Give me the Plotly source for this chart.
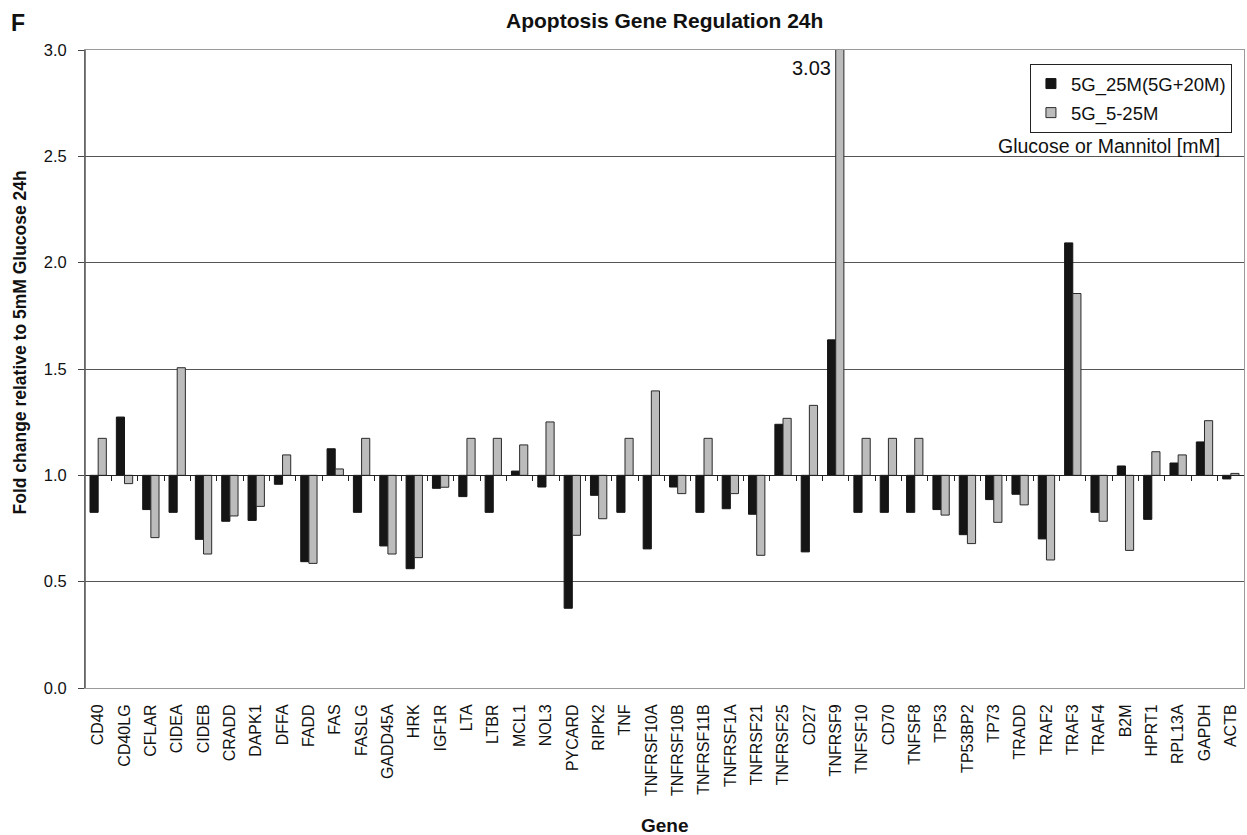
import plotly.graph_objects as go

genes = ["CD40", "CD40LG", "CFLAR", "CIDEA", "CIDEB", "CRADD", "DAPK1", "DFFA", "FADD", "FAS",
         "FASLG", "GADD45A", "HRK", "IGF1R", "LTA", "LTBR", "MCL1", "NOL3", "PYCARD", "RIPK2",
         "TNF", "TNFRSF10A", "TNFRSF10B", "TNFRSF11B", "TNFRSF1A", "TNFRSF21", "TNFRSF25", "CD27",
         "TNFRSF9", "TNFSF10", "CD70", "TNFSF8", "TP53", "TP53BP2", "TP73", "TRADD", "TRAF2",
         "TRAF3", "TRAF4", "B2M", "HPRT1", "RPL13A", "GAPDH", "ACTB"]

fold_25M = [0.826, 1.274, 0.839, 0.826, 0.699, 0.784, 0.788, 0.958, 0.594, 1.125,
            0.826, 0.668, 0.561, 0.939, 0.900, 0.826, 1.020, 0.945, 0.375, 0.906,
            0.826, 0.654, 0.945, 0.826, 0.843, 0.817, 1.240, 0.640,
            1.637, 0.826, 0.826, 0.826, 0.839, 0.721, 0.886, 0.911, 0.701,
            2.093, 0.826, 1.044, 0.793, 1.058, 1.157, 0.983]

fold_5_25M = [1.174, 0.961, 0.707, 1.506, 0.630, 0.809, 0.854, 1.096, 0.586, 1.030,
              1.174, 0.630, 0.613, 0.944, 1.174, 1.174, 1.143, 1.251, 0.718, 0.796,
              1.174, 1.397, 0.914, 1.174, 0.914, 0.624, 1.268, 1.329,
              3.03, 1.174, 1.174, 1.174, 0.813, 0.679, 0.779, 0.861, 0.602,
              1.855, 0.784, 0.647, 1.111, 1.096, 1.257, 1.009]

series_names = ["5G_25M(5G+20M)", "5G_5-25M"]
baseline = 1.0
y_range = [0.0, 3.0]
y_ticks = [0.0, 0.5, 1.0, 1.5, 2.0, 2.5, 3.0]

FONT = "Liberation Sans, Arial, Helvetica, sans-serif"
BLACK = "#151515"
GRAY = "#bcbcbc"
EDGE = "#2a2a2a"

fig = go.Figure()
fig.add_trace(go.Bar(
    x=genes, y=[v - baseline for v in fold_25M], base=baseline,
    name=series_names[0], showlegend=False,
    marker=dict(color=BLACK, line=dict(color=BLACK, width=1)),
))
fig.add_trace(go.Bar(
    x=genes, y=[v - baseline for v in fold_5_25M], base=baseline,
    name=series_names[1], showlegend=False,
    marker=dict(color=GRAY, line=dict(color=EDGE, width=1)),
))
# legend entries with square swatches
fig.add_trace(go.Scatter(
    x=[None], y=[None], mode="markers", name=series_names[0], legendgroup="a",
    marker=dict(symbol="square", size=10, color=BLACK, line=dict(color=BLACK, width=1)),
))
fig.add_trace(go.Scatter(
    x=[None], y=[None], mode="markers", name=series_names[1], legendgroup="b",
    marker=dict(symbol="square", size=10, color=GRAY, line=dict(color=EDGE, width=1)),
))
# invisible helper trace for the category axis drawn at fold change 1.0
n = len(genes)
fig.add_trace(go.Scatter(
    x=[0, n - 1], y=[baseline, baseline], xaxis="x2", mode="markers",
    marker=dict(opacity=0), hoverinfo="skip", showlegend=False,
))

base_pos = (baseline - y_range[0]) / (y_range[1] - y_range[0])

fig.update_layout(
    width=1247, height=835,
    margin=dict(l=85, r=3, t=50, b=147),
    paper_bgcolor="white", plot_bgcolor="white",
    barmode="group", bargap=0.38, bargroupgap=0.0,
    font=dict(family=FONT, color="#111", size=16),
    showlegend=True,
    legend=dict(
        x=0.9896, y=0.978, xanchor="right", yanchor="top",
        bgcolor="white", bordercolor="#222", borderwidth=1,
        font=dict(size=18.5, family=FONT, color="#111"),
        tracegroupgap=2, itemwidth=30,
    ),
    xaxis=dict(
        type="category", categoryorder="array", categoryarray=genes,
        range=[-0.5, n - 0.5],
        tickangle=-90, tickfont=dict(size=16, family=FONT, color="#111"),
        showline=True, linecolor="#9a9a9a", linewidth=1, mirror=True,
        ticks="", showgrid=False, ticklabelstandoff=9,
    ),
    xaxis2=dict(
        overlaying="x", anchor="free", position=base_pos,
        range=[-0.5, n - 0.5],
        tickvals=[i + 0.5 for i in range(n - 1)],
        showticklabels=False, ticks="outside", ticklen=5, tickcolor="#222", tickwidth=1,
        showline=True, linecolor="#222", linewidth=1, showgrid=False, zeroline=False,
    ),
    yaxis=dict(
        range=y_range, tickvals=y_ticks, tickformat=".1f",
        tickfont=dict(size=16.5, family=FONT, color="#111"),
        ticks="outside", ticklen=6, tickcolor="#444",
        showline=True, linecolor="#9a9a9a", linewidth=1, mirror=True,
        showgrid=True, gridcolor="#555", gridwidth=1, zeroline=False,
        ticklabelstandoff=8,
    ),
    shapes=[dict(type="line", xref="paper", yref="paper", x0=0, x1=0, y0=0, y1=1,
                 line=dict(color="#555", width=1.5))],
    annotations=[
        dict(text="<b>Apoptosis Gene Regulation 24h</b>", xref="paper", yref="paper",
             x=0.5, y=(688 - 20) / 638, xanchor="center", yanchor="middle", showarrow=False,
             font=dict(size=21, family=FONT, color="#111")),
        dict(text="<b>F</b>", xref="paper", yref="paper", x=(18 - 85) / 1159, y=(688 - 23) / 638,
             xanchor="center", yanchor="middle", showarrow=False,
             font=dict(size=23, family=FONT, color="#111")),
        dict(text="<b>Fold change relative to 5mM Glucose 24h</b>", xref="paper", yref="paper",
             x=(19.5 - 85) / 1159, y=(688 - 343) / 638, textangle=-90,
             xanchor="center", yanchor="middle", showarrow=False,
             font=dict(size=17.5, family=FONT, color="#111")),
        dict(text="<b>Gene</b>", xref="paper", yref="paper", x=0.5, y=(688 - 825) / 638,
             xanchor="center", yanchor="middle", showarrow=False,
             font=dict(size=19, family=FONT, color="#111")),
        dict(text="Glucose or Mannitol [mM]", xref="paper", yref="y",
             x=(1222 - 85) / 1159, y=2.55, xanchor="right", yanchor="middle", showarrow=False,
             font=dict(size=19.5, family=FONT, color="#111")),
        dict(text="3.03", xref="x", yref="y", x="TNFRSF9", y=2.915,
             xanchor="right", yanchor="middle", xshift=-3, showarrow=False,
             font=dict(size=20, family=FONT, color="#111")),
    ],
)

fig.write_html("out.html")
